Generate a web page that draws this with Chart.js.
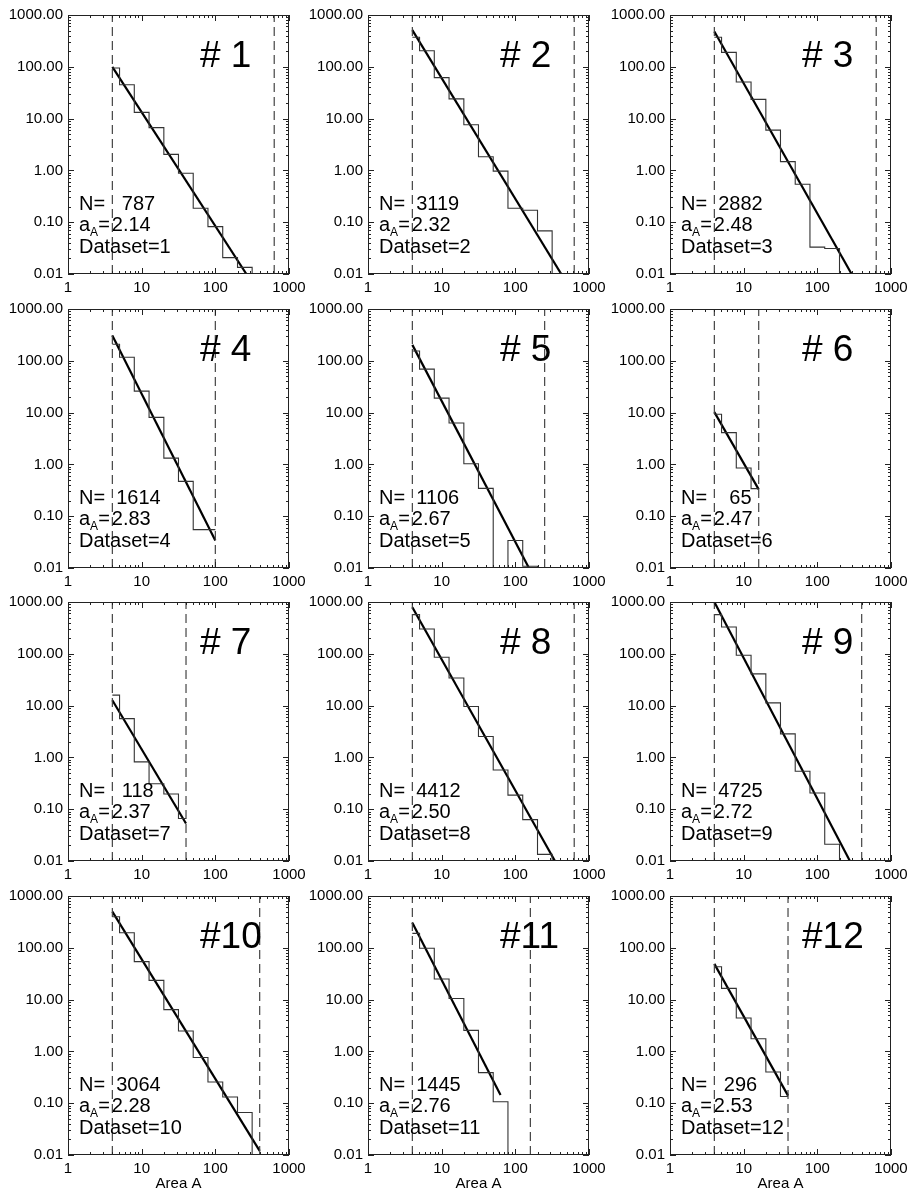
<!DOCTYPE html>
<html><head><meta charset="utf-8">
<script src="https://cdn.jsdelivr.net/npm/chart.js@4.4.0/dist/chart.umd.min.js"></script>
<style>
html,body{margin:0;padding:0;background:#fff;}
#wrap{position:relative;width:909px;height:1194px;overflow:hidden;background:#fff;}
canvas{position:absolute;}
</style></head><body><div id="wrap"></div>
<script>
// ---------------- DATA ----------------
const datasetIds = [1,2,3,4,5,6,7,8,9,10,11,12];
const nEvents    = [787,3119,2882,1614,1106,65,118,4412,4725,3064,1445,296];
const slopes     = [2.14,2.32,2.48,2.83,2.67,2.47,2.37,2.50,2.72,2.28,2.76,2.53];
const lowerCuts  = [4,4,4,4,4,4,4,4,4,4,4,4];
const upperCuts  = [630,630,630,100,250,16,40,630,400,400,160,40];

const histEdges = [
  [4,5.01,7.94,12.6,20,31.6,50.1,79.4,126,200,316,501],
  [4,5.01,7.94,12.6,20,31.6,50.1,79.4,126,200,316,501],
  [4,5.01,7.94,12.6,20,31.6,50.1,79.4,126,200,316],
  [4,5.01,7.94,12.6,20,31.6,50.1,79.4,100],
  [4,5.01,7.94,12.6,20,31.6,50.1,79.4,126,200,250],
  [4,5.01,7.94,12.6,16],
  [4,5.01,7.94,12.6,20,31.6,40],
  [4,5.01,7.94,12.6,20,31.6,50.1,79.4,126,200,316,501],
  [4,5.01,7.94,12.6,20,31.6,50.1,79.4,126,200,316],
  [4,5.01,7.94,12.6,20,31.6,50.1,79.4,126,200,316,400],
  [4,5.01,7.94,12.6,20,31.6,50.1,79.4,126],
  [4,5.01,7.94,12.6,20,31.6,40]
];
const histValues = [
  [95,45,13.2,6.7,2.04,0.88,0.186,0.082,0.0207,0.0134,0],
  [371,204,61.7,24,7.6,1.84,0.97,0.186,0.17,0.068,0],
  [371,190,51,23.5,6.0,1.48,0.54,0.033,0.031,0],
  [209,117,26,8.1,1.32,0.47,0.055,0.055],
  [155,69,19,6.3,1.03,0.345,0,0.034,0.0108,0],
  [9.3,4.1,0.85,0.34],
  [15.9,5.6,0.82,0.31,0.196,0.066],
  [570,302,86,34,9.6,2.53,0.57,0.187,0.063,0.0134,0],
  [570,330,94,41,11.3,2.85,0.54,0.205,0.021,0],
  [398,195,54,23.5,6.4,2.47,0.76,0.257,0.132,0.066,0],
  [190,98,25,10.5,2.55,0.39,0.107,0],
  [43,16.5,4.4,1.76,0.40,0.135]
];
// fitted power-law line endpoints
const fitX0 = [4,4,4,4,4,4,4,4,4,4,4,4];
const fitY0 = [100,510,480,308,203,10.2,12.7,790,1000,500,305,49];
const fitX1 = [264,420,292,100,153,16,40,345,277,400,63,40];
const fitY1 = [0.01,0.01,0.01,0.034,0.01,0.33,0.053,0.01,0.01,0.012,0.144,0.14];

const xTickValues = [1,10,100,1000];
const yTickValues = [0.01,0.1,1,10,100,1000];
const xTitle = 'Area A';

// ---------------- LAYOUT ----------------
const FONT = '"Liberation Sans", Arial, Helvetica, sans-serif';
const colLeft = [0,300,602];
const colWidth = [310,310,307];
const rowTop = [0,294,587,881];
const PLOT_W = 221, PLOT_H = 259, YAXIS_W = 68, TOP_PAD = 15;

const framePlugin = {
  id: 'frame',
  afterDraw(chart) {
    const ctx = chart.ctx, ca = chart.chartArea;
    const xs = chart.scales.x, ys = chart.scales.y;
    const k = chart.options.plugins.frame.index;
    ctx.save();
    ctx.strokeStyle = '#222';
    ctx.lineWidth = 1;
    ctx.strokeRect(Math.round(ca.left)+0.5, Math.round(ca.top)+0.5,
                   Math.round(ca.right-ca.left)-1, Math.round(ca.bottom-ca.top)-1);
    ctx.beginPath();
    for (let d = 1; d <= 1000; d *= 10) {
      for (let m = 1; m <= 9; m++) {
        const v = m*d; if (v > 1000) break;
        const px = Math.round(xs.getPixelForValue(v)) + 0.5;
        const L = m === 1 ? 6 : 3;
        ctx.moveTo(px, ca.bottom); ctx.lineTo(px, ca.bottom - L);
        ctx.moveTo(px, ca.top); ctx.lineTo(px, ca.top + L);
      }
    }
    for (let e = -2; e <= 3; e++) {
      const d = Math.pow(10, e);
      for (let m = 1; m <= 9; m++) {
        const v = m*d; if (v > 1000.0001) break;
        const py = Math.round(ys.getPixelForValue(v)) + 0.5;
        const L = m === 1 ? 6 : 3;
        ctx.moveTo(ca.left, py); ctx.lineTo(ca.left + L, py);
        ctx.moveTo(ca.right, py); ctx.lineTo(ca.right - L, py);
      }
    }
    ctx.stroke();

    // annotations
    ctx.fillStyle = '#000';
    ctx.textAlign = 'left';
    ctx.textBaseline = 'alphabetic';
    const tx = ca.left + 11;
    ctx.font = '20px ' + FONT;
    ctx.fillText('N=' + String(nEvents[k]).padStart(6, ' '), tx, ca.bottom - 64);
    let x = tx; const yA = ca.bottom - 43;
    ctx.fillText('a', x, yA); x += ctx.measureText('a').width;
    ctx.font = '12px ' + FONT;
    ctx.fillText('A', x, yA + 5); x += ctx.measureText('A').width;
    ctx.font = '20px ' + FONT;
    ctx.fillText('=', x, yA); x += ctx.measureText('=').width + 2;
    ctx.fillText(slopes[k].toFixed(2), x, yA);
    ctx.fillText('Dataset=' + datasetIds[k], tx, ca.bottom - 21);
    ctx.font = '37px ' + FONT;
    ctx.fillText('#' + String(datasetIds[k]).padStart(2, ' '), ca.left + 132, ca.top + 52);
    ctx.restore();
  }
};

const wrap = document.getElementById('wrap');
for (let k = 0; k < 12; k++) {
  const col = k % 3, row = Math.floor(k / 3);
  const w = colWidth[col];
  const axisH = row === 3 ? 40 : 20;
  const h = TOP_PAD + PLOT_H + axisH;
  const cv = document.createElement('canvas');
  cv.width = w; cv.height = h;
  cv.style.left = colLeft[col] + 'px';
  cv.style.top = rowTop[row] + 'px';
  cv.style.width = w + 'px'; cv.style.height = h + 'px';
  wrap.appendChild(cv);

  const edges = histEdges[k], vals = histValues[k];
  const FLOOR = 1e-4; // empty bins sit below the axis and are clipped
  const hist = [];
  for (let i = 0; i < vals.length; i++) {
    const v = vals[i] > 0 ? vals[i] : FLOOR;
    hist.push({x: edges[i], y: v});
    hist.push({x: edges[i+1], y: v});
  }
  const lineBase = {pointRadius: 0, borderWidth: 1, tension: 0, fill: false};
  new Chart(cv, {
    type: 'line',
    data: {
      datasets: [
        Object.assign({}, lineBase, {data: [{x: lowerCuts[k], y: 0.01}, {x: lowerCuts[k], y: 1000}],
          borderColor: '#444', borderWidth: 1.2, borderDash: [9, 5]}),
        Object.assign({}, lineBase, {data: [{x: upperCuts[k], y: 0.01}, {x: upperCuts[k], y: 1000}],
          borderColor: '#444', borderWidth: 1.2, borderDash: [9, 5]}),
        Object.assign({}, lineBase, {data: hist, borderColor: '#333', borderWidth: 1.1, clip: 0}),
        Object.assign({}, lineBase, {data: [{x: fitX0[k], y: fitY0[k]}, {x: fitX1[k], y: fitY1[k]}],
          borderColor: '#000', borderWidth: 2.2, clip: 0})
      ]
    },
    options: {
      responsive: false, animation: false, devicePixelRatio: 1, events: [],
      layout: {padding: {left: 0, top: TOP_PAD, right: w - YAXIS_W - PLOT_W, bottom: 0}},
      plugins: {legend: {display: false}, tooltip: {enabled: false}, frame: {index: k}},
      scales: {
        x: {
          type: 'logarithmic', min: 1, max: 1000, position: 'bottom',
          grid: {display: false, drawTicks: false}, border: {display: false},
          afterBuildTicks: s => { s.ticks = xTickValues.map(v => ({value: v})); },
          afterFit: s => { s.height = axisH; s.paddingLeft = 0; s.paddingRight = 0; },
          ticks: {autoSkip: false, maxRotation: 0, minRotation: 0, padding: 5, color: '#000',
                  font: {family: FONT, size: 15}, callback: v => String(v)},
          title: {display: row === 3, text: xTitle, color: '#000',
                  font: {family: FONT, size: 15}, padding: {top: 0, bottom: 2}}
        },
        y: {
          type: 'logarithmic', min: 0.01, max: 1000, position: 'left',
          grid: {display: false, drawTicks: false}, border: {display: false},
          afterBuildTicks: s => { s.ticks = yTickValues.map(v => ({value: v})); },
          afterFit: s => { s.width = YAXIS_W; s.paddingTop = 0; s.paddingBottom = 0; },
          ticks: {autoSkip: false, padding: 5, color: '#000',
                  font: {family: FONT, size: 15}, callback: v => Number(v).toFixed(2)}
        }
      }
    },
    plugins: [framePlugin]
  });
}
</script>
</body></html>
